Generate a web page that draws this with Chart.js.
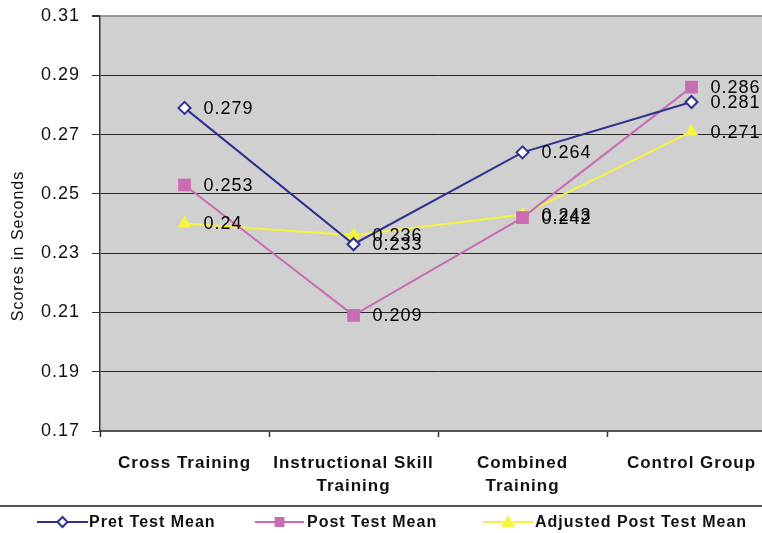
<!DOCTYPE html>
<html>
<head>
<meta charset="utf-8">
<script src="https://cdn.jsdelivr.net/npm/chart.js@4/dist/chart.umd.min.js"></script>
<style>
  html, body { margin: 0; padding: 0; background: #ffffff; overflow: hidden; }
  #wrap { width: 762px; height: 533px; overflow: hidden; }
  canvas { display: block; }
</style>
</head>
<body>
<div id="wrap"><canvas id="chart" width="785" height="533"></canvas></div>
<script>
// Group names along the x axis
const categories = [
  ['Cross Training'],
  ['Instructional Skill', 'Training'],
  ['Combined', 'Training'],
  ['Control Group']
];

// Mean scores (seconds) per group
const pretTestMean     = [0.279, 0.233, 0.264, 0.281];
const postTestMean     = [0.253, 0.209, 0.242, 0.286];
const adjustedPostMean = [0.240, 0.236, 0.243, 0.271];

// Value axis range
const yMin = 0.17;
const yMax = 0.31;
const yStep = 0.02;

const seriesNames = ['Pret Test Mean', 'Post Test Mean', 'Adjusted Post Test Mean'];
const yTitle = 'Scores in Seconds';

const NAVY = '#2E3192';
const PINK = '#C86CB4';
const YELLOW = '#F6F43C';
const FONT = '"Liberation Sans", Arial, sans-serif';

// Gray plot background, letter spacing for the stretched-looking text
const backdrop = {
  id: 'backdrop',
  beforeDraw(chart) {
    const { ctx, chartArea: a } = chart;
    ctx.letterSpacing = '1px';
    ctx.save();
    ctx.fillStyle = '#D0D0D0';
    ctx.fillRect(a.left, a.top, a.right - a.left, a.bottom - a.top);
    ctx.restore();
  }
};

// Value labels to the right of each marker
const valueLabels = {
  id: 'valueLabels',
  afterDatasetsDraw(chart) {
    const { ctx } = chart;
    ctx.save();
    ctx.letterSpacing = '1px';
    ctx.font = '18px ' + FONT;
    ctx.fillStyle = '#000000';
    ctx.textAlign = 'left';
    ctx.textBaseline = 'middle';
    chart.data.datasets.forEach((ds, i) => {
      const meta = chart.getDatasetMeta(i);
      meta.data.forEach((pt, j) => {
        ctx.fillText(String(ds.data[j]), pt.x + 19, pt.y + 1);
      });
    });
    ctx.restore();
  }
};

// Rotated axis title and the legend strip under the chart
const decorations = {
  id: 'decorations',
  afterDraw(chart) {
    const { ctx } = chart;
    ctx.save();
    ctx.letterSpacing = '1px';
    // axis title
    ctx.save();
    ctx.translate(19, 246);
    ctx.rotate(-Math.PI / 2);
    ctx.font = '16px ' + FONT;
    ctx.fillStyle = '#111111';
    ctx.textAlign = 'center';
    ctx.textBaseline = 'middle';
    ctx.fillText(yTitle, 0, 0);
    ctx.restore();

    // separator above legend
    ctx.strokeStyle = '#555555';
    ctx.lineWidth = 2;
    ctx.beginPath();
    ctx.moveTo(0, 506);
    ctx.lineTo(785, 506);
    ctx.stroke();

    const items = [
      { x0: 37, x1: 88, color: NAVY, style: 'diamond', tx: 89 },
      { x0: 255, x1: 304, color: PINK, style: 'square', tx: 307 },
      { x0: 483, x1: 533, color: YELLOW, style: 'triangle', tx: 535 }
    ];
    const ly = 522;
    items.forEach((it, i) => {
      ctx.strokeStyle = it.color;
      ctx.lineWidth = 2;
      ctx.beginPath();
      ctx.moveTo(it.x0, ly);
      ctx.lineTo(it.x1, ly);
      ctx.stroke();
      const cx = (it.x0 + it.x1) / 2;
      ctx.beginPath();
      if (it.style === 'diamond') {
        ctx.moveTo(cx, ly - 5); ctx.lineTo(cx + 5, ly); ctx.lineTo(cx, ly + 5); ctx.lineTo(cx - 5, ly); ctx.closePath();
        ctx.fillStyle = '#ffffff'; ctx.fill();
        ctx.lineWidth = 2; ctx.strokeStyle = it.color; ctx.stroke();
      } else if (it.style === 'square') {
        ctx.rect(cx - 5, ly - 5, 10, 10);
        ctx.fillStyle = it.color; ctx.fill();
      } else {
        ctx.moveTo(cx, ly - 7); ctx.lineTo(cx + 7, ly + 5); ctx.lineTo(cx - 7, ly + 5); ctx.closePath();
        ctx.fillStyle = it.color; ctx.fill();
      }
      ctx.font = 'bold 16px ' + FONT;
      ctx.fillStyle = '#111111';
      ctx.textAlign = 'left';
      ctx.textBaseline = 'middle';
      ctx.fillText(seriesNames[i], it.tx, ly + 1);
    });
    ctx.restore();
  }
};

new Chart(document.getElementById('chart'), {
  type: 'line',
  data: {
    labels: categories,
    datasets: [
      {
        label: seriesNames[0],
        data: pretTestMean,
        borderColor: NAVY,
        borderWidth: 2,
        pointStyle: 'rectRot',
        pointRadius: 6,
        pointBorderWidth: 2,
        pointBackgroundColor: '#ffffff',
        pointBorderColor: NAVY,
        tension: 0
      },
      {
        label: seriesNames[1],
        data: postTestMean,
        borderColor: PINK,
        borderWidth: 2,
        pointStyle: 'rect',
        pointRadius: 9,
        pointBorderWidth: 0,
        pointBackgroundColor: PINK,
        pointBorderColor: PINK,
        tension: 0
      },
      {
        label: seriesNames[2],
        data: adjustedPostMean,
        borderColor: YELLOW,
        borderWidth: 2,
        pointStyle: 'triangle',
        pointRadius: 8,
        pointBorderWidth: 0,
        pointBackgroundColor: YELLOW,
        pointBorderColor: YELLOW,
        tension: 0
      }
    ]
  },
  options: {
    responsive: false,
    animation: false,
    devicePixelRatio: 1,
    layout: { padding: { top: 16, right: 4, left: 0, bottom: 0 } },
    plugins: {
      legend: { display: false },
      tooltip: { enabled: false },
      title: { display: false }
    },
    scales: {
      x: {
        offset: true,
        grid: {
          offset: true,
          drawOnChartArea: false,
          drawTicks: true,
          tickLength: 6,
          tickColor: '#333333',
          tickWidth: 1.5
        },
        border: { display: true, color: '#555555', width: 2 },
        ticks: {
          color: '#111111',
          padding: 14,
          maxRotation: 0,
          autoSkip: false,
          font: { family: FONT, size: 17, weight: 'bold', lineHeight: 1.4 }
        },
        afterFit(scale) {
          scale.height = 102;
          scale.paddingLeft = 0;
          scale.paddingRight = 0;
        }
      },
      y: {
        min: yMin,
        max: yMax,
        grid: {
          color: (c) => (c.tick && Math.abs(c.tick.value - yMax) < 1e-9) ? '#9A9A9A' : '#2A2A2A',
          lineWidth: (c) => (c.tick && Math.abs(c.tick.value - yMax) < 1e-9) ? 2 : 1,
          tickLength: 8,
          tickColor: '#333333',
          drawTicks: true
        },
        border: { display: true, color: '#333333', width: 1.5 },
        ticks: {
          stepSize: yStep,
          color: '#111111',
          padding: 12,
          font: { family: FONT, size: 18 },
          callback: (v) => Number(v).toFixed(2)
        },
        afterFit(scale) {
          scale.width = 100;
          scale.paddingTop = 0;
          scale.paddingBottom = 0;
        }
      }
    }
  },
  plugins: [backdrop, valueLabels, decorations]
});
</script>
</body>
</html>
